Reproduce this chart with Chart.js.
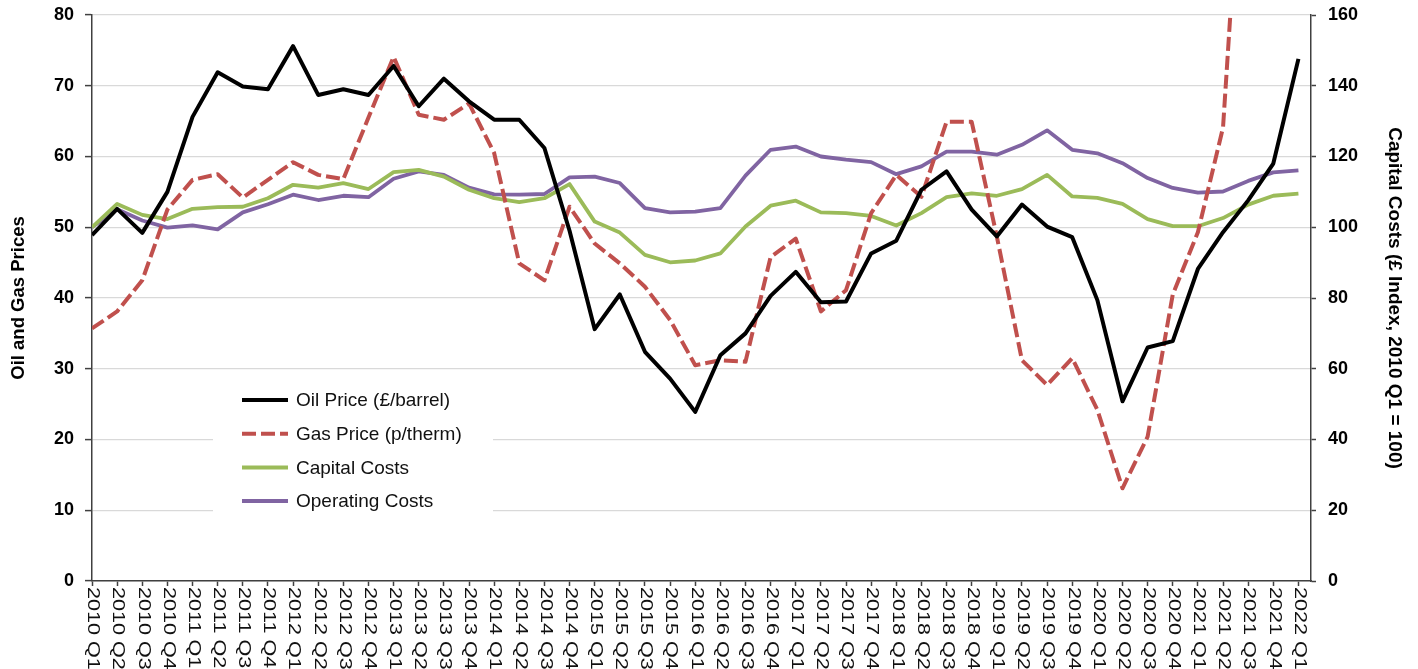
<!DOCTYPE html>
<html>
<head>
<meta charset="utf-8">
<script src="https://cdn.jsdelivr.net/npm/chart.js@4.4.1/dist/chart.umd.min.js"></script>
<style>
  html, body { margin: 0; padding: 0; background: #ffffff; }
</style>
</head>
<body>
<canvas id="myChartCanvas" width="1418" height="669"></canvas>
<script>
// Dados (trimestres de 2010 Q1 a 2022 Q1)
let trimestres = [
    '2010 Q1', '2010 Q2', '2010 Q3', '2010 Q4', '2011 Q1', '2011 Q2', '2011 Q3', '2011 Q4',
    '2012 Q1', '2012 Q2', '2012 Q3', '2012 Q4', '2013 Q1', '2013 Q2', '2013 Q3', '2013 Q4',
    '2014 Q1', '2014 Q2', '2014 Q3', '2014 Q4', '2015 Q1', '2015 Q2', '2015 Q3', '2015 Q4',
    '2016 Q1', '2016 Q2', '2016 Q3', '2016 Q4', '2017 Q1', '2017 Q2', '2017 Q3', '2017 Q4',
    '2018 Q1', '2018 Q2', '2018 Q3', '2018 Q4', '2019 Q1', '2019 Q2', '2019 Q3', '2019 Q4',
    '2020 Q1', '2020 Q2', '2020 Q3', '2020 Q4', '2021 Q1', '2021 Q2', '2021 Q3', '2021 Q4',
    '2022 Q1'
];

let precoPetroleo = [48.9, 52.6, 49.2, 55.0, 65.6, 71.9, 69.9, 69.5, 75.6, 68.7,
    69.5, 68.7, 72.8, 67.1, 71.0, 67.8, 65.2, 65.2, 61.2, 49.5,
    35.6, 40.5, 32.4, 28.6, 23.9, 31.9, 35.0, 40.3, 43.7, 39.4,
    39.5, 46.3, 48.1, 55.3, 57.9, 52.5, 48.7, 53.2, 50.1, 48.6,
    39.7, 25.4, 33.0, 33.9, 44.1, 49.3, 53.8, 59.0, 73.8];

let precoGas = [35.7, 38.1, 42.5, 52.5, 56.7, 57.5, 54.2, 56.7, 59.2, 57.4,
    56.8, 65.5, 74.1, 65.9, 65.2, 67.5, 60.5, 44.9, 42.5, 52.9,
    47.7, 44.9, 41.6, 36.9, 30.5, 31.2, 31.0, 45.8, 48.4, 38.1,
    41.1, 52.0, 57.4, 54.3, 64.9, 64.9, 48.7, 31.2, 27.7, 31.5,
    24.2, 13.1, 20.4, 40.5, 49.3, 64.1, 119, 190, 210];

let custosCapital = [100, 106.6, 103.5, 102.3, 105.2, 105.7, 105.8, 108.2, 112.0, 111.2,
    112.5, 110.8, 115.6, 116.2, 114.3, 110.6, 108.2, 107.1, 108.2, 112.2,
    101.6, 98.5, 92.2, 90.1, 90.6, 92.6, 100.2, 106.1, 107.5, 104.2,
    104.0, 103.2, 100.5, 104.0, 108.5, 109.6, 108.9, 110.8, 114.8, 108.7,
    108.3, 106.6, 102.3, 100.3, 100.3, 102.6, 106.4, 108.9, 109.5];

let custosOperacao = [100, 105.1, 101.9, 99.9, 100.5, 99.4, 104.2, 106.5, 109.2, 107.7,
    108.9, 108.5, 113.7, 115.8, 114.8, 111.2, 109.3, 109.2, 109.4, 114.1,
    114.3, 112.5, 105.4, 104.2, 104.4, 105.4, 114.6, 121.9, 122.8, 120.0,
    119.1, 118.4, 115.0, 117.2, 121.4, 121.4, 120.5, 123.3, 127.4, 121.9,
    120.9, 118.1, 113.9, 111.1, 109.8, 110.1, 113.1, 115.5, 116.1];

let ticksEsquerda = [0, 10, 20, 30, 40, 50, 60, 70, 80];
let ticksDireita = [0, 20, 40, 60, 80, 100, 120, 140, 160];

const fonte = '"Liberation Sans", Arial, Helvetica, sans-serif';
const corEixo = '#404040';

function pontos(valores) {
    return valores.map(function (v, i) { return { x: i, y: v }; });
}

// Legenda desenhada dentro da área do gráfico
const legendaInterna = {
    id: 'legendaInterna',
    beforeDatasetsDraw(chart) {
        const ctx = chart.ctx;
        ctx.save();
        ctx.fillStyle = '#ffffff';
        ctx.fillRect(213, 378, 280, 144);
        ctx.font = '19px ' + fonte;
        ctx.textBaseline = 'middle';
        ctx.textAlign = 'left';
        chart.data.datasets.forEach(function (ds, i) {
            let y = 400 + i * 33.7;
            ctx.beginPath();
            ctx.setLineDash(ds.borderDash || []);
            ctx.lineCap = 'butt';
            ctx.strokeStyle = ds.borderColor;
            ctx.lineWidth = 4;
            ctx.moveTo(242, y);
            ctx.lineTo(288, y);
            ctx.stroke();
            ctx.setLineDash([]);
            ctx.fillStyle = '#111111';
            ctx.fillText(ds.label, 296, y + 1);
        });
        ctx.restore();
    }
};

// Rótulos do eixo x, girados no sentido horário
const rotulosX = {
    id: 'rotulosX',
    afterDraw(chart) {
        const ctx = chart.ctx;
        const escalaX = chart.scales.x;
        ctx.save();
        ctx.font = '17px ' + fonte;
        ctx.fillStyle = '#111111';
        ctx.textAlign = 'left';
        ctx.textBaseline = 'middle';
        trimestres.forEach(function (rotulo, i) {
            let x = escalaX.getPixelForValue(i);
            ctx.save();
            ctx.translate(x + 1, 587);
            ctx.rotate(Math.PI / 2);
            ctx.scale(1.27, 1);
            ctx.fillText(rotulo, 0, 0);
            ctx.restore();
        });
        ctx.restore();
    }
};

// Fixa a largura dos eixos verticais e tira o espaço extra do rótulo do topo
function ajustaEixo(largura) {
    return function (escala) {
        escala.width = largura;
        escala.paddingTop = 0;
        escala.paddingBottom = 0;
    };
}

Chart.defaults.font.family = fonte;
Chart.defaults.color = '#000000';

let chartData = {
    labels: trimestres,
    datasets: [{
        label: 'Oil Price (£/barrel)',
        data: pontos(precoPetroleo),
        borderColor: '#000000',
        borderWidth: 4,
        yAxisID: 'y'
    },
    {
        label: 'Gas Price (p/therm)',
        data: pontos(precoGas),
        borderColor: '#C0504D',
        borderWidth: 4,
        borderDash: [14, 5],
        borderCapStyle: 'butt',
        yAxisID: 'y'
    },
    {
        label: 'Capital Costs',
        data: pontos(custosCapital),
        borderColor: '#9BBB59',
        borderWidth: 3.8,
        yAxisID: 'y1'
    },
    {
        label: 'Operating Costs',
        data: pontos(custosOperacao),
        borderColor: '#8064A2',
        borderWidth: 3.8,
        yAxisID: 'y1'
    }]
};

const config = {
    type: 'line',
    data: chartData,
    options: {
        responsive: false,
        animation: false,
        layout: { padding: { top: 15, left: 0, right: 0, bottom: 0 } },
        elements: {
            point: { radius: 0 },
            line: { tension: 0, borderJoinStyle: 'round', fill: false }
        },
        scales: {
            x: {
                type: 'linear',
                min: 0,
                max: trimestres.length - 0.5,
                ticks: { display: false, stepSize: 1, includeBounds: false },
                grid: { drawOnChartArea: false, drawTicks: true, tickLength: 5, tickColor: corEixo, tickWidth: 1.5 },
                border: { display: true, color: corEixo, width: 1.5 },
                afterFit: function (escala) {
                    escala.height = 88;
                    escala.paddingLeft = 0;
                    escala.paddingRight = 0;
                }
            },
            y: {
                position: 'left',
                min: 0,
                max: 80,
                afterBuildTicks: function (escala) {
                    escala.ticks = ticksEsquerda.map(function (v) { return { value: v }; });
                },
                ticks: { padding: 11, font: { size: 18, weight: 'bold' }, color: '#000000' },
                grid: { color: '#d9d9d9', lineWidth: 1.2, tickLength: 7, tickColor: corEixo, tickWidth: 1.5 },
                border: { display: true, color: corEixo, width: 1.5 },
                title: {
                    display: true,
                    text: 'Oil and Gas Prices',
                    font: { size: 18.5, weight: 'bold' },
                    color: '#000000',
                    padding: { top: 8, bottom: 0 }
                },
                afterFit: ajustaEixo(92)
            },
            y1: {
                position: 'right',
                min: 0,
                max: 160,
                afterBuildTicks: function (escala) {
                    escala.ticks = ticksDireita.map(function (v) { return { value: v }; });
                },
                ticks: { padding: 12, font: { size: 18, weight: 'bold' }, color: '#000000' },
                grid: { drawOnChartArea: false, tickLength: 5, tickColor: corEixo, tickWidth: 1.5 },
                border: { display: true, color: corEixo, width: 1.5 },
                title: {
                    display: true,
                    text: 'Capital Costs (£ Index, 2010 Q1 = 100)',
                    font: { size: 19, weight: 'bold' },
                    color: '#000000',
                    padding: { top: 12, bottom: 0 }
                },
                afterFit: ajustaEixo(107)
            }
        },
        plugins: {
            legend: { display: false },
            tooltip: { enabled: false },
            title: { display: false }
        }
    },
    plugins: [legendaInterna, rotulosX]
};

let myChart = new Chart(
    document.getElementById('myChartCanvas'),
    config
);
</script>
</body>
</html>
